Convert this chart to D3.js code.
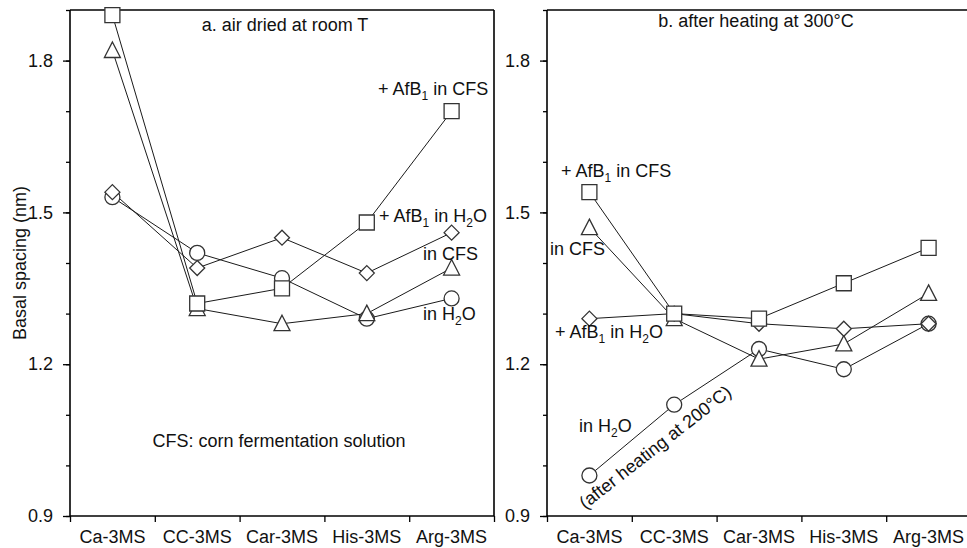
<!DOCTYPE html>
<html>
<head>
<meta charset="utf-8">
<script src="https://cdn.jsdelivr.net/npm/d3@7"></script>
<style>
  body { margin: 0; background: #fff; }
  svg { display: block; font-family: "Liberation Sans", Arial, sans-serif; }
</style>
</head>
<body>
<svg id="chart" width="967" height="548"></svg>
<script>
// categories + tick values
const categories = ["Ca-3MS", "CC-3MS", "Car-3MS", "His-3MS", "Arg-3MS"];
const yTicks = [0.9, 1.2, 1.5, 1.8];
const yMinorTicks = [0.9, 1.0, 1.1, 1.2, 1.3, 1.4, 1.5, 1.6, 1.7, 1.8, 1.9];

// a. air dried at room T
const airAfbCfs = [1.89, 1.32, 1.35, 1.48, 1.70];   // squares
const airCfs    = [1.82, 1.31, 1.28, 1.30, 1.39];   // triangles
const airH2o    = [1.53, 1.42, 1.37, 1.29, 1.33];   // circles
const airAfbH2o = [1.54, 1.39, 1.45, 1.38, 1.46];   // diamonds

// b. after heating at 300°C
const heatAfbCfs = [1.54, 1.30, 1.29, 1.36, 1.43];
const heatCfs    = [1.47, 1.29, 1.21, 1.24, 1.34];
const heatH2o    = [0.98, 1.12, 1.23, 1.19, 1.28];
const heatAfbH2o = [1.29, 1.30, 1.28, 1.27, 1.28];

const svg = d3.select("#chart");
const plotTop = 10, plotBottom = 516, panelW = 424;
const y = d3.scaleLinear().domain([0.9, 1.9]).range([plotBottom, plotTop]);

// marker shapes (custom d3 symbol types)
const squareT = { draw(c) { c.rect(-7.5, -7.5, 15, 15); } };
const circleT = { draw(c) { c.moveTo(7.5, 0); c.arc(0, 0, 7.5, 0, 2 * Math.PI); } };
const triT = { draw(c) { c.moveTo(0, -8.5); c.lineTo(8, 7); c.lineTo(-8, 7); c.closePath(); } };
const diaT = { draw(c) { c.moveTo(0, -7.5); c.lineTo(7.5, 0); c.lineTo(0, 7.5); c.lineTo(-7.5, 0); c.closePath(); } };

const panels = [
  {
    left: 70, frameRight: true,
    title: "a. air dried at room T", titleX: 285, titleY: 31,
    series: [
      { vals: airH2o, shape: circleT },
      { vals: airCfs, shape: triT },
      { vals: airAfbH2o, shape: diaT },
      { vals: airAfbCfs, shape: squareT }
    ],
    labels: [
      { t: "+ AfB_1 in CFS", x: 378, y: 95 },
      { t: "+ AfB_1 in H_2O", x: 379, y: 222 },
      { t: "in CFS", x: 423, y: 260 },
      { t: "in H_2O", x: 423, y: 320 },
      { t: "CFS: corn fermentation solution", x: 279, y: 447, anchor: "middle" }
    ]
  },
  {
    left: 547, frameRight: false,
    title: "b. after heating at 300°C", titleX: 756, titleY: 27,
    series: [
      { vals: heatH2o, shape: circleT },
      { vals: heatCfs, shape: triT },
      { vals: heatAfbH2o, shape: diaT },
      { vals: heatAfbCfs, shape: squareT }
    ],
    labels: [
      { t: "+ AfB_1 in CFS", x: 561, y: 177 },
      { t: "in CFS", x: 550, y: 255 },
      { t: "+ AfB_1 in H_2O", x: 555, y: 338 },
      { t: "in H_2O", x: 579, y: 432 },
      { t: "(after heating at 200°C)", x: 659, y: 452, anchor: "middle", rotate: -38 }
    ]
  }
];

function addLabel(lab) {
  const txt = svg.append("text")
    .attr("x", lab.x).attr("y", lab.y)
    .attr("font-size", 18).attr("fill", "#111")
    .attr("text-anchor", lab.anchor || "start");
  if (lab.rotate) txt.attr("transform", `rotate(${lab.rotate},${lab.x},${lab.y})`);
  const parts = lab.t.split(/_(\d)/);
  parts.forEach((p, i) => {
    if (i % 2 === 1) {
      txt.append("tspan").attr("font-size", 12).attr("dy", 5).text(p);
    } else if (p.length) {
      const ts = txt.append("tspan").text(p);
      if (i > 0) ts.attr("dy", -5);
    }
  });
}

panels.forEach(p => {
  const x = d3.scaleBand().domain(categories).range([p.left, p.left + panelW]);
  const xEdge = d3.scaleLinear().domain([0, categories.length]).range([p.left, p.left + panelW]);

  // minor y ticks
  svg.append("g").attr("transform", `translate(${p.left},0)`)
    .call(d3.axisLeft(y).tickValues(yMinorTicks).tickSize(4).tickFormat(""))
    .call(g => g.select(".domain").remove());
  // major y ticks
  svg.append("g").attr("transform", `translate(${p.left},0)`)
    .call(d3.axisLeft(y).tickValues(yTicks).tickSize(7).tickPadding(10).tickFormat(d3.format(".1f")))
    .call(g => g.select(".domain").remove())
    .call(g => g.selectAll("text").attr("font-size", 18).attr("fill", "#111").attr("font-family", null));

  // x boundary ticks
  svg.append("g").attr("transform", `translate(0,${plotBottom})`)
    .call(d3.axisBottom(xEdge).ticks(categories.length).tickSize(6).tickFormat(""))
    .call(g => g.select(".domain").remove());
  // x labels
  svg.append("g").attr("transform", `translate(0,${plotBottom})`)
    .call(d3.axisBottom(x).tickSize(0).tickPadding(14))
    .call(g => g.select(".domain").remove())
    .call(g => g.selectAll("text").attr("font-size", 18).attr("fill", "#111").attr("font-family", null));

  svg.selectAll(".tick line").attr("stroke", "#000").attr("stroke-width", 1.3);

  // frame
  const frame = svg.append("g").attr("stroke", "#000").attr("stroke-width", 1.6).attr("fill", "none");
  frame.append("line").attr("x1", p.left).attr("x2", p.left).attr("y1", plotTop).attr("y2", plotBottom);
  frame.append("line").attr("x1", p.left).attr("x2", p.left + panelW).attr("y1", plotBottom).attr("y2", plotBottom);
  frame.append("line").attr("x1", p.left).attr("x2", p.left + panelW).attr("y1", plotTop).attr("y2", plotTop);
  if (p.frameRight)
    frame.append("line").attr("x1", p.left + panelW).attr("x2", p.left + panelW).attr("y1", plotTop).attr("y2", plotBottom);

  // series lines
  const line = d3.line().x((d, i) => x(categories[i]) + x.bandwidth() / 2).y(d => y(d));
  p.series.forEach(s => {
    svg.append("path").datum(s.vals)
      .attr("d", line).attr("fill", "none")
      .attr("stroke", "#1a1a1a").attr("stroke-width", 1);
  });
  // markers
  p.series.forEach(s => {
    svg.append("g").selectAll("path").data(s.vals).join("path")
      .attr("transform", (d, i) => `translate(${x(categories[i]) + x.bandwidth() / 2},${y(d)})`)
      .attr("d", d3.symbol().type(s.shape))
      .attr("fill", "#fff").attr("stroke", "#333").attr("stroke-width", 1.3);
  });

  svg.append("text").attr("x", p.titleX).attr("y", p.titleY)
    .attr("text-anchor", "middle").attr("font-size", 18).attr("fill", "#111")
    .text(p.title);
  p.labels.forEach(addLabel);
});

// y axis title
svg.append("text")
  .attr("transform", "translate(26,263) rotate(-90)")
  .attr("text-anchor", "middle").attr("font-size", 18).attr("fill", "#111")
  .text("Basal spacing (nm)");
</script>
</body>
</html>
